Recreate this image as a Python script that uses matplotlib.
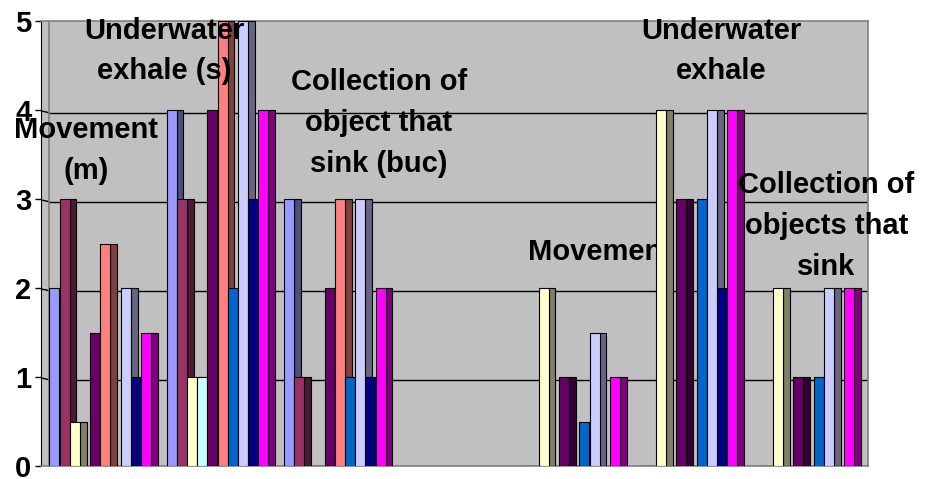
import numpy as np
import matplotlib
matplotlib.use('agg')
import matplotlib.pyplot as plt
from matplotlib.colors import to_rgb

plt.rcParams['font.family'] = ['Liberation Sans', 'DejaVu Sans']
plt.rcParams['font.weight'] = 'bold'

# one value per category, the fourth category is left empty
nan = np.nan
series_colors = ['#9999FF', '#993366', '#FFFFCC', '#CCFFFF', '#660066',
                 '#FF8080', '#0066CC', '#CCCCFF', '#000080', '#FF00FF']
s1 = [2, 4, 3, nan, 0, 0, 0]
s2 = [3, 3, 1, nan, 0, 0, 0]
s3 = [0.5, 1, 0, nan, 2, 4, 2]
s4 = [0, 1, 0, nan, 0, 0, 0]
s5 = [1.5, 4, 2, nan, 1, 3, 1]
s6 = [2.5, 5, 3, nan, 0, 0, 0]
s7 = [0, 2, 1, nan, 0.5, 3, 1]
s8 = [2, 5, 3, nan, 1.5, 4, 2]
s9 = [1, 3, 1, nan, 0, 2, 0]
s10 = [1.5, 4, 2, nan, 1, 4, 2]
series = [s1, s2, s3, s4, s5, s6, s7, s8, s9, s10]

y_ticks = [0, 1, 2, 3, 4, 5]

# category captions drawn inside the plot: (text, x, top y)
captions = [
    ("Movement\n(m)", 0.31, 3.93),
    ("Underwater\nexhale (s)", 0.98, 5.05),
    ("Collection of\nobject that\nsink (buc)", 2.81, 4.47),
    ("Underwater\nexhale", 5.73, 5.05),
    ("Collection of\nobjects that\nsink", 6.63, 3.31),
]

slot = 0.087
front_w = 0.085
depth = 0.058


def shade(c, f=0.5):
    r, g, b = to_rgb(c)
    return (r * f, g * f, b * f)


fig = plt.figure(figsize=(9.32, 4.79), dpi=100)
ax = fig.add_axes([41 / 932, 13 / 479, 827 / 932, 445 / 479])
ax.set_facecolor('#C0C0C0')
ax.set_xlim(-0.0725, 6.984)
ax.set_ylim(0, 5)

cats = np.arange(7)
for i, (vals, col) in enumerate(zip(series, series_colors)):
    x = cats + i * slot
    vals = np.array(vals, dtype=float)
    # side face first, the next series' front covers it
    ax.bar(x + front_w, vals, width=depth, align='edge', color=shade(col),
           edgecolor='black', linewidth=0.8, zorder=3 + 2 * i)
    ax.bar(x, vals, width=front_w, align='edge', color=col,
           edgecolor='black', linewidth=0.8, zorder=4 + 2 * i)

# gridlines on the back wall
wall_x = -0.004
for y in y_ticks[1:-1]:
    ax.plot([ax.get_xlim()[0], wall_x], [y - 0.01, y - 0.03], color='black', lw=1, zorder=1)
    ax.plot([wall_x, ax.get_xlim()[1]], [y - 0.03, y - 0.03], color='black', lw=1, zorder=1)
ax.axvline(wall_x, color='#808080', lw=1.2, zorder=1)

ax.set_yticks(y_ticks)
ax.set_yticklabels([str(t) for t in y_ticks], fontsize=21, fontweight='bold')
ax.tick_params(axis='y', length=4, width=1, pad=3)
ax.set_xticks([])
for side in ['top', 'right', 'bottom']:
    ax.spines[side].set_color('#808080')
    ax.spines[side].set_linewidth(1.2)
ax.spines['left'].set_color('black')

for text, x, y in captions:
    ax.text(x, y, text, ha='center', va='top', fontsize=21, fontweight='bold',
            linespacing=1.58, zorder=30, clip_on=False)

# this caption sits behind the bars of the next category
ax.text(4.70, 2.40, "Movement", ha='center', va='center', fontsize=21,
        fontweight='bold', zorder=2)

fig.savefig('out.png', dpi=100)
